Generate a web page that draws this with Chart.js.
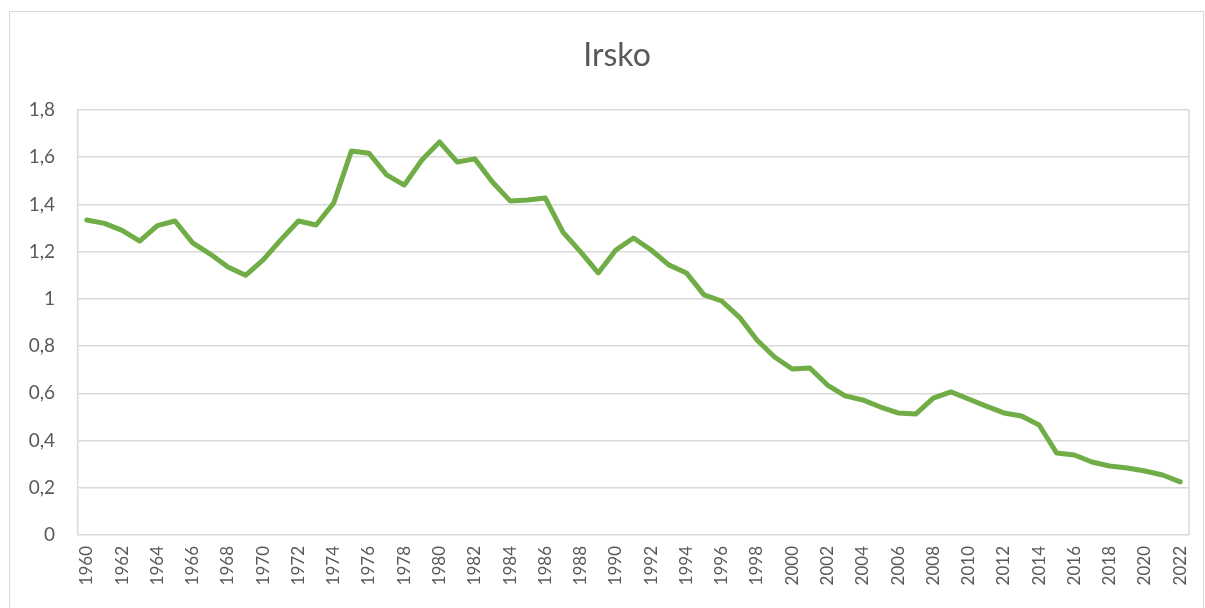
<!DOCTYPE html>
<html>
<head>
<meta charset="utf-8">
<script src="https://cdn.jsdelivr.net/npm/chart.js@4"></script>
<style>
  html, body { margin: 0; padding: 0; background: #fff; }
  #wrap { width: 1205px; height: 608px; }
</style>
</head>
<body>
<div id="wrap"><canvas id="mainChart" width="1205" height="608"></canvas></div>
<script>
var chartTitle = "Irsko";

var years = [];
for (var y = 1960; y <= 2022; y++) years.push(String(y));

var values = [
    1.334, 1.32, 1.29, 1.245, 1.31, 1.33, 1.237, 1.19, 1.135, 1.10,
    1.165, 1.25, 1.33, 1.313, 1.406, 1.626, 1.617, 1.525, 1.482, 1.588,
    1.665, 1.58, 1.593, 1.495, 1.415, 1.419, 1.427, 1.283, 1.199, 1.11,
    1.207, 1.258, 1.207, 1.144, 1.11, 1.017, 0.991, 0.923, 0.826, 0.754,
    0.703, 0.707, 0.635, 0.589, 0.572, 0.542, 0.517, 0.512, 0.58, 0.606,
    0.576, 0.546, 0.517, 0.504, 0.466, 0.347, 0.339, 0.309, 0.292, 0.284,
    0.271, 0.254, 0.225
];

var yTicks = [0, 0.2, 0.4, 0.6, 0.8, 1, 1.2, 1.4, 1.6, 1.8];

// outer frame, right edge of plot and the title (centred on the whole frame, like Excel)
var frame = {
    id: "frame",
    beforeDraw: function (chart) {
        var c = chart.ctx;
        c.save();
        c.strokeStyle = "#d9d9d9";
        c.lineWidth = 1;
        c.strokeRect(9.5, 11.5, 1194, 610);
        c.fillStyle = "#595959";
        c.font = "32px Lato";
        c.textAlign = "center";
        c.textBaseline = "middle";
        c.fillText(chartTitle, 617, 56);
        c.restore();
    },
    afterDatasetsDraw: function (chart) {
        var a = chart.chartArea;
        var c = chart.ctx;
        c.save();
        c.strokeStyle = "#d9d9d9";
        c.lineWidth = 1.5;
        c.beginPath();
        c.moveTo(a.right, a.top);
        c.lineTo(a.right, a.bottom);
        c.stroke();
        c.restore();
    }
};

var ctx = document.getElementById("mainChart").getContext("2d");
var myChart = new Chart(ctx, {
    type: "line",
    data: {
        labels: years,
        datasets: [
            {
                data: values,
                borderColor: "#70AD47",
                borderWidth: 5,
                borderJoinStyle: "round",
                borderCapStyle: "round",
                fill: false,
                tension: 0,
                pointRadius: 0,
            },
        ],
    },
    plugins: [frame],
    options: {
        responsive: false,
        animation: false,
        layout: {
            padding: { left: 0, right: 16, top: 110, bottom: 0 }
        },
        plugins: {
            legend: { display: false },
            tooltip: { enabled: false },
            title: { display: false },
        },
        scales: {
            x: {
                offset: true,
                grid: { display: false, drawTicks: false },
                border: { display: false },
                ticks: {
                    autoSkip: false,
                    maxRotation: 90,
                    minRotation: 90,
                    padding: 11,
                    color: "#595959",
                    font: { family: "Lato", size: 17 },
                    callback: function (v, i) {
                        return i % 2 === 0 ? years[i] : "";
                    },
                },
                afterFit: function (scale) {
                    scale.height = 73;
                    scale.paddingLeft = 0;
                    scale.paddingRight = 0;
                },
            },
            y: {
                min: 0,
                max: 1.8,
                afterBuildTicks: function (scale) {
                    scale.ticks = yTicks.map(function (v) { return { value: v }; });
                },
                grid: { color: "#d9d9d9", lineWidth: 1.5, drawTicks: false },
                border: { display: true, color: "#d9d9d9", width: 1.5 },
                ticks: {
                    padding: 23,
                    color: "#595959",
                    font: { family: "Lato", size: 19 },
                    callback: function (v) {
                        return String(Number(v.toFixed(1))).replace(".", ",");
                    },
                },
                afterFit: function (scale) { scale.width = 78; },
            },
        },
    },
});
</script>
</body>
</html>
